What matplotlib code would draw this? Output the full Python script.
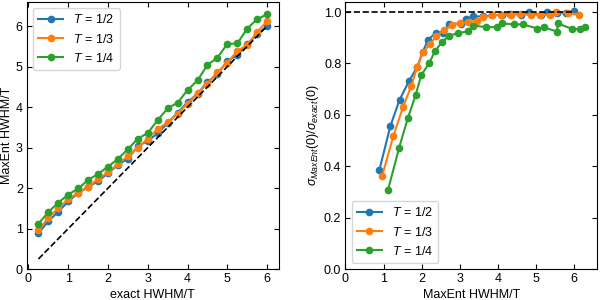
import matplotlib
matplotlib.use("Agg")
import matplotlib.pyplot as plt
from matplotlib.ticker import MultipleLocator
import numpy as np

# exact HWHM/T grid
exact = [0.25, 0.5, 0.75, 1.0, 1.25, 1.5, 1.75, 2.0, 2.25, 2.5, 2.75, 3.0,
         3.25, 3.5, 3.75, 4.0, 4.25, 4.5, 4.75, 5.0, 5.25, 5.5, 5.75, 6.0]

# MaxEnt HWHM/T for each temperature
maxent_t2 = [0.89, 1.18, 1.42, 1.67, 1.88, 2.03, 2.17, 2.37, 2.57, 2.73, 3.03, 3.17,
             3.35, 3.61, 3.86, 4.12, 4.33, 4.62, 4.81, 5.14, 5.28, 5.55, 5.80, 6.00]
maxent_t3 = [0.96, 1.26, 1.51, 1.73, 1.88, 2.03, 2.23, 2.39, 2.59, 2.79, 3.00, 3.22,
             3.46, 3.62, 3.84, 4.08, 4.34, 4.58, 4.86, 5.10, 5.38, 5.54, 5.85, 6.13]
maxent_t4 = [1.12, 1.41, 1.64, 1.84, 1.99, 2.20, 2.35, 2.53, 2.72, 2.96, 3.22, 3.36,
             3.68, 3.97, 4.11, 4.42, 4.66, 5.04, 5.22, 5.56, 5.57, 5.94, 6.17, 6.29]

# sigma_MaxEnt(0) / sigma_exact(0)
ratio_t2 = [0.385, 0.557, 0.658, 0.732, 0.785, 0.845, 0.893, 0.918, 0.920, 0.955, 0.955, 0.974,
            0.983, 0.983, 0.987, 0.990, 0.993, 0.990, 1.000, 0.988, 1.000, 0.996, 0.996, 1.004]
ratio_t3 = [0.361, 0.519, 0.630, 0.713, 0.785, 0.843, 0.877, 0.908, 0.929, 0.948, 0.957, 0.961,
            0.966, 0.979, 0.987, 0.990, 0.990, 0.992, 0.990, 0.990, 0.987, 1.000, 0.996, 0.990]
ratio_t4 = [0.309, 0.473, 0.588, 0.676, 0.754, 0.802, 0.847, 0.883, 0.908, 0.918, 0.925, 0.947,
            0.942, 0.941, 0.956, 0.952, 0.952, 0.936, 0.940, 0.924, 0.956, 0.935, 0.933, 0.941]

labels = ['$T\\,=\\,1/2$', '$T\\,=\\,1/3$', '$T\\,=\\,1/4$']

plt.rcParams['font.family'] = ['Liberation Sans', 'DejaVu Sans']
plt.rcParams['font.size'] = 9
plt.rcParams['mathtext.fontset'] = 'custom'
plt.rcParams['mathtext.rm'] = 'Liberation Sans'
plt.rcParams['mathtext.it'] = 'Liberation Sans:italic'

fig, (ax1, ax2) = plt.subplots(1, 2, figsize=(6, 3), dpi=100)
fig.subplots_adjust(left=0.045, right=0.995, bottom=0.103, top=0.993, wspace=0.266)

for y, lab in zip([maxent_t2, maxent_t3, maxent_t4], labels):
    ax1.plot(exact, y, 'o-', ms=4.5, lw=1.5, label=lab)
ax1.plot([exact[0], exact[-1]], [exact[0], exact[-1]], 'k--', lw=1.2)
ax1.set_ylim(bottom=0)
ax1.set_xlabel('exact HWHM/T', labelpad=3)
ax1.set_ylabel('MaxEnt HWHM/T', labelpad=2)
ax1.legend(loc='upper left', fontsize=9)

for x, y, lab in zip([maxent_t2, maxent_t3, maxent_t4], [ratio_t2, ratio_t3, ratio_t4], labels):
    ax2.plot(x, y, 'o-', ms=4.5, lw=1.5, label=lab)
ax2.plot([0, 6], [1, 1], 'k--', lw=1.2)
ax2.set_xlim(left=0)
ax2.set_ylim(bottom=0)
ax2.set_xlabel('MaxEnt HWHM/T', labelpad=3)
ax2.set_ylabel(r'$\sigma_{MaxEnt}(0)/\sigma_{exact}(0)$', labelpad=2)
ax2.legend(loc='lower left', fontsize=9)
ax2.yaxis.set_major_locator(MultipleLocator(0.2))

for ax in (ax1, ax2):
    ax.xaxis.set_major_locator(MultipleLocator(1))
    ax.tick_params(direction='in', top=True, right=True, pad=3)
ax1.yaxis.set_major_locator(MultipleLocator(1))

fig.savefig('out.png', dpi=100)
